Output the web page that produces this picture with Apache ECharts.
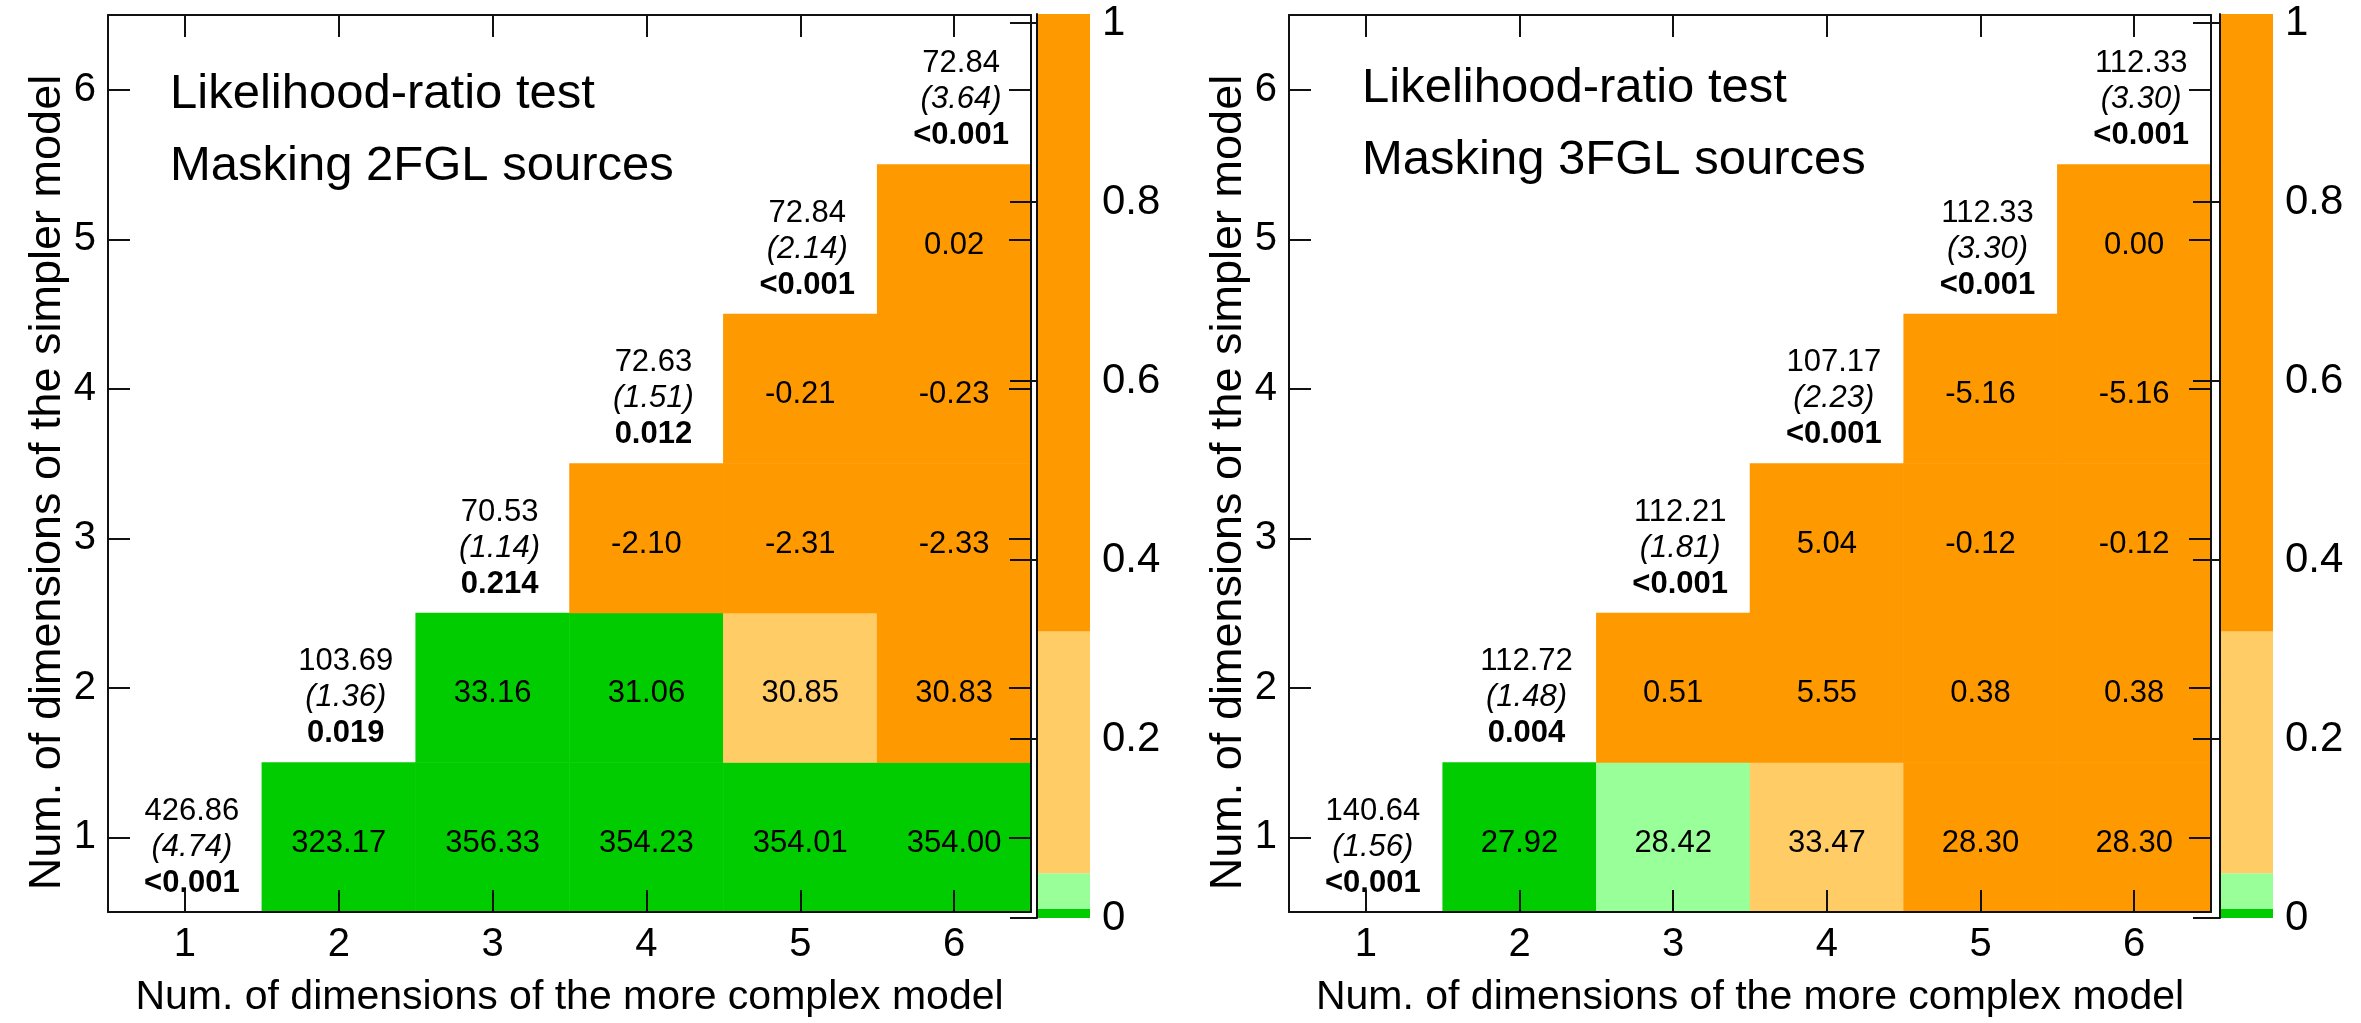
<!DOCTYPE html>
<html>
<head>
<meta charset="utf-8">
<title>Likelihood-ratio test</title>
<script src="https://cdn.jsdelivr.net/npm/echarts@6/dist/echarts.min.js"></script>
<style>
  html, body { margin: 0; padding: 0; background: #fff; }
  #chart { width: 2361px; height: 1023px; }
</style>
</head>
<body>
<div id="chart"></div>
<script>
// Model dimensions on both axes
const dims = ['1', '2', '3', '4', '5', '6'];

// Off-diagonal cells: [complex dim, simpler dim, TS difference, p-value]
const cells2FGL = [
  [2, 1, '323.17', 0.0001], [3, 1, '356.33', 0.0001], [4, 1, '354.23', 0.0001],
  [5, 1, '354.01', 0.0001], [6, 1, '354.00', 0.0001],
  [3, 2, '33.16', 0.004], [4, 2, '31.06', 0.008], [5, 2, '30.85', 0.12], [6, 2, '30.83', 0.45],
  [4, 3, '-2.10', 1.0], [5, 3, '-2.31', 1.0], [6, 3, '-2.33', 1.0],
  [5, 4, '-0.21', 1.0], [6, 4, '-0.23', 1.0],
  [6, 5, '0.02', 0.9]
];
const cells3FGL = [
  [2, 1, '27.92', 0.004], [3, 1, '28.42', 0.03], [4, 1, '33.47', 0.2],
  [5, 1, '28.30', 0.5], [6, 1, '28.30', 0.6],
  [3, 2, '0.51', 0.9], [4, 2, '5.55', 0.7], [5, 2, '0.38', 0.95], [6, 2, '0.38', 0.97],
  [4, 3, '5.04', 0.8], [5, 3, '-0.12', 1.0], [6, 3, '-0.12', 1.0],
  [5, 4, '-5.16', 1.0], [6, 4, '-5.16', 1.0],
  [6, 5, '0.00', 1.0]
];

// Diagonal cells: [dim, TS, (TS per dof), p-value text]
const diag2FGL = [
  [1, '426.86', '4.74', '<0.001'], [2, '103.69', '1.36', '0.019'], [3, '70.53', '1.14', '0.214'],
  [4, '72.63', '1.51', '0.012'], [5, '72.84', '2.14', '<0.001'], [6, '72.84', '3.64', '<0.001']
];
const diag3FGL = [
  [1, '140.64', '1.56', '<0.001'], [2, '112.72', '1.48', '0.004'], [3, '112.21', '1.81', '<0.001'],
  [4, '107.17', '2.23', '<0.001'], [5, '112.33', '3.30', '<0.001'], [6, '112.33', '3.30', '<0.001']
];

// p-value palette
const pBounds = [0, 0.01, 0.05, 0.32, 1.01];
const pColors = ['#00cc00', '#99ff99', '#ffcc66', '#ff9900'];
const cbarTicks = [0, 0.2, 0.4, 0.6, 0.8, 1];

const panelTitles = [
  'Likelihood-ratio test\nMasking 2FGL sources',
  'Likelihood-ratio test\nMasking 3FGL sources'
];
const xTitle = 'Num. of dimensions of the more complex model';
const yTitle = 'Num. of dimensions of the simpler model';

const FONT = '"Liberation Sans", Arial, Helvetica, sans-serif';

const panels = [
  { left: 108, width: 923, cbLeft: 1037, cells: cells2FGL, diag: diag2FGL, tLeft: 170, tTop: 58 },
  { left: 1289, width: 922, cbLeft: 2220, cells: cells3FGL, diag: diag3FGL, tLeft: 1362, tTop: 52 }
];
const TOP = 15, HEIGHT = 903;

const grid = [], xAxis = [], yAxis = [], series = [], title = [];

const frameLine = { show: true, lineStyle: { color: '#111', width: 2 } };
const tickIn = { show: true, inside: true, length: 22, alignWithLabel: true, interval: 0,
                 lineStyle: { color: '#111', width: 2 } };
// mirrored axes keep their (empty) labels so ticks stay centred on the cells
const blankLabel = { show: true, interval: 0, formatter: () => '' };

panels.forEach((p, i) => {
  grid.push({ left: p.left, top: TOP, width: p.width, height: HEIGHT, containLabel: false });
  const g = i;
  // bottom and top x axes
  xAxis.push({
    type: 'category', data: dims, gridIndex: g, position: 'bottom', z: 10,
    axisLine: frameLine, axisTick: tickIn,
    axisLabel: { show: true, interval: 0, margin: 13, fontSize: 40, color: '#000', fontFamily: FONT },
    splitLine: { show: false },
    name: xTitle, nameLocation: 'middle', nameGap: 65,
    nameTextStyle: { fontSize: 41, color: '#000', fontFamily: FONT }
  });
  xAxis.push({
    type: 'category', data: dims, gridIndex: g, position: 'top', z: 10,
    axisLine: frameLine, axisTick: tickIn, axisLabel: blankLabel, splitLine: { show: false }
  });
  // left and right y axes
  yAxis.push({
    type: 'category', data: dims, gridIndex: g, position: 'left', z: 10,
    axisLine: frameLine, axisTick: tickIn,
    axisLabel: { show: true, interval: 0, margin: 12, fontSize: 40, color: '#000', fontFamily: FONT },
    splitLine: { show: false },
    name: yTitle, nameLocation: 'middle', nameGap: 37,
    nameTextStyle: { fontSize: 45, color: '#000', fontFamily: FONT, padding: [0, 38, 0, 0] }
  });
  yAxis.push({
    type: 'category', data: dims, gridIndex: g, position: 'right', z: 10,
    axisLine: frameLine, axisTick: tickIn, axisLabel: blankLabel, splitLine: { show: false }
  });

  title.push({
    text: panelTitles[i], left: p.tLeft, top: p.tTop, padding: 0,
    textStyle: { fontSize: 49, fontWeight: 'normal', color: '#000', fontFamily: FONT, lineHeight: 72 }
  });

  // colour-coded cells
  series.push({
    type: 'heatmap', xAxisIndex: 2 * i, yAxisIndex: 2 * i, z: 2,
    data: p.cells.map(c => [c[0] - 1, c[1] - 1, c[3], c[2]]),
    label: {
      show: true, color: '#000', fontSize: 31, fontFamily: FONT, offset: [0, 6],
      formatter: prm => prm.data[3]
    },
    emphasis: { disabled: true }
  });
  // diagonal annotations
  series.push({
    type: 'scatter', xAxisIndex: 2 * i, yAxisIndex: 2 * i, z: 3,
    symbol: 'circle', symbolSize: 1, itemStyle: { color: 'rgba(0,0,0,0)', opacity: 1 },
    data: p.diag.map(d => [d[0] - 1, d[0] - 1, d[1], d[2], d[3]]),
    label: {
      show: true, position: 'inside', color: '#000', fontFamily: FONT, offset: [7, 10],
      formatter: prm => '{a|' + prm.data[2] + '}\n{b|(' + prm.data[3] + ')}\n{c|' + prm.data[4] + '}',
      rich: {
        a: { fontSize: 31, lineHeight: 36, fontFamily: FONT, color: '#000' },
        b: { fontSize: 31, lineHeight: 36, fontFamily: FONT, color: '#000', fontStyle: 'italic' },
        c: { fontSize: 31, lineHeight: 36, fontFamily: FONT, color: '#000', fontWeight: 'bold' }
      }
    },
    emphasis: { disabled: true }
  });
});

// colour bars
panels.forEach((p, i) => {
  const g = 2 + i;
  grid.push({ left: p.cbLeft, top: 14, width: 53, height: 904 });
  const xi = xAxis.length, yi = yAxis.length;
  xAxis.push({ type: 'value', gridIndex: g, min: 0, max: 1, show: false });
  yAxis.push({
    type: 'value', gridIndex: g, min: 0, max: 1.01, position: 'right', z: 10,
    axisLine: { show: true, lineStyle: { color: '#111', width: 2 } },
    axisTick: { show: true, inside: true, length: 27, customValues: cbarTicks,
                lineStyle: { color: '#111', width: 2 } },
    axisLabel: { show: true, customValues: cbarTicks, margin: 12, fontSize: 42,
                 color: '#000', fontFamily: FONT, formatter: v => String(v) },
    splitLine: { show: false }
  });
  series.push({
    type: 'custom', xAxisIndex: xi, yAxisIndex: yi, z: 2,
    data: pColors.map((c, k) => [pBounds[k], pBounds[k + 1], k]),
    renderItem: (params, api) => {
      const a = api.coord([0, api.value(0)]);
      const b = api.coord([1, api.value(1)]);
      return {
        type: 'rect',
        shape: { x: a[0], y: b[1], width: b[0] - a[0], height: a[1] - b[1] },
        style: { fill: pColors[api.value(2)] }
      };
    },
    silent: true
  });
});

const chart = echarts.init(document.getElementById('chart'));
chart.setOption({
  animation: false,
  backgroundColor: '#fff',
  title: title,
  grid: grid,
  xAxis: xAxis,
  yAxis: yAxis,
  visualMap: {
    type: 'piecewise', show: false, dimension: 2, seriesIndex: [0, 2],
    pieces: pColors.map((c, k) => ({ gte: pBounds[k], lt: pBounds[k + 1], color: c }))
  },
  series: series
});
</script>
</body>
</html>
